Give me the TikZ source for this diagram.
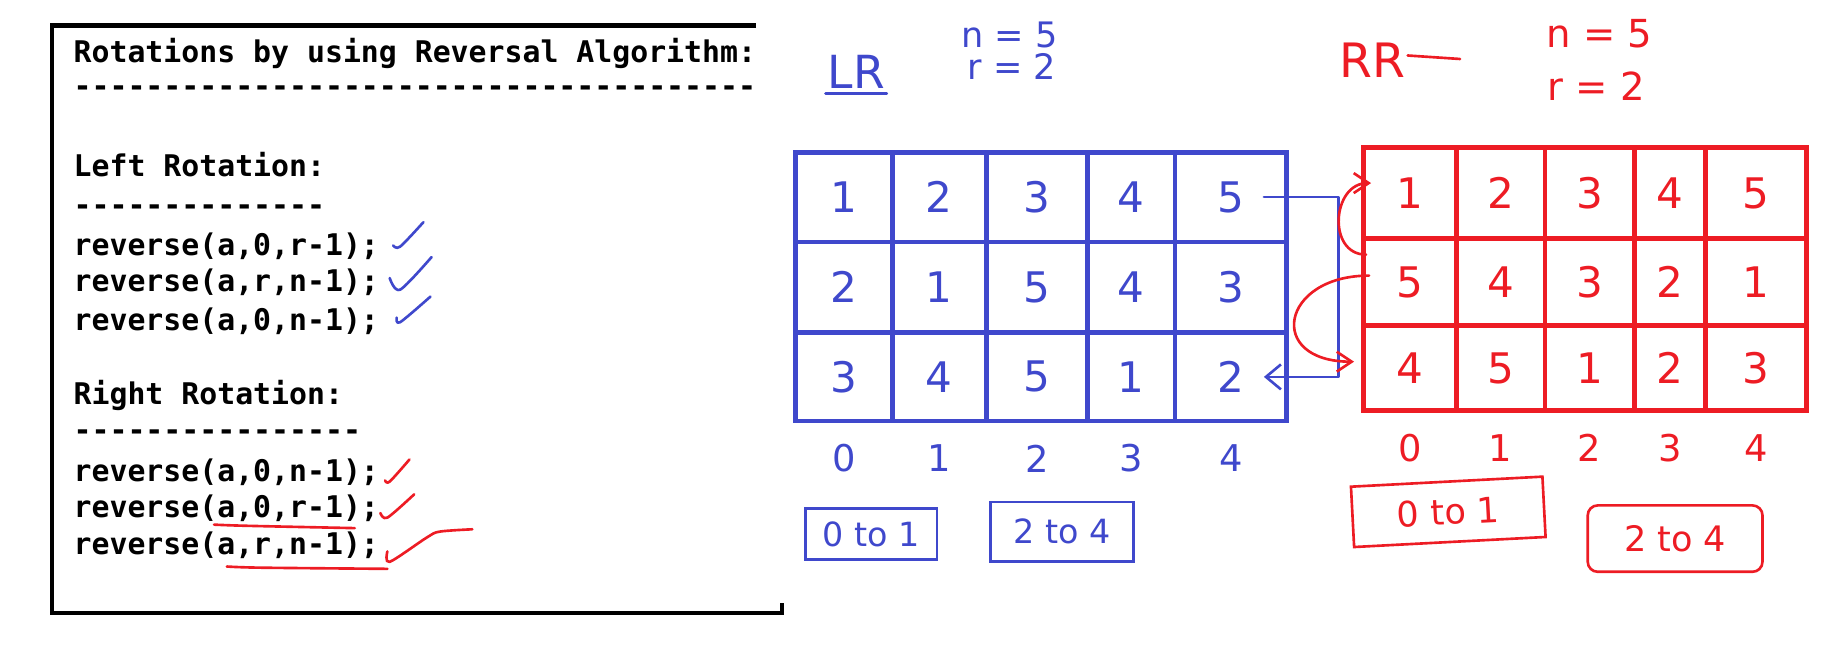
\documentclass[tikz,border=0pt]{standalone}
\usepackage{fontspec}
\usepackage{xcolor}
\usepackage{tikz}
\usetikzlibrary{arrows.meta,positioning}
\setmonofont{DejaVu Sans Mono}
\newfontfamily\handfont{DejaVu Sans}
\newcommand\hsz[1]{\handfont\fontsize{#1}{#1}\selectfont}
\newcommand\dashrow[1]{\foreach \k in {1,...,#1}{-}}
\definecolor{pblue}{HTML}{3F48CC}
\definecolor{pred}{HTML}{ED1C24}

\begin{document}
\begin{tikzpicture}[x=0.0233cm,y=-0.0233cm,
  code/.style={anchor=base west,inner sep=0pt,font=\ttfamily\bfseries\fontsize{17}{20}\selectfont},
  bcell/.style={draw=pblue,line width=2.6pt,inner sep=0pt},
  rcell/.style={draw=pred,line width=2.6pt,inner sep=0pt},
  bhand/.style={text=pblue,inner sep=1pt,font=\hsz{22}},
  rhand/.style={text=pred,inner sep=1pt,font=\hsz{22}},
  bink/.style={pblue,line width=1.5pt,line cap=round,line join=round},
  rink/.style={pred,line width=1.5pt,line cap=round,line join=round}]
  \useasboundingbox (0,0) rectangle (1568,556);

  % code panel
  \draw[line width=2.4pt] (650,22) -- (45,22) -- (45,527) -- (672,527) -- (672,518);
  \node[code] (title) at (63,54) {Rotations by using Reversal Algorithm:};
  \node[code] (rule1) at (63,83) {\dashrow{38}};
  \node[code] (hleft) at (63,152) {Left Rotation:};
  \node[code] (rule2) at (63,185) {\dashrow{14}};
  \node[code] (l1) at (63,220) {reverse(a,0,r-1);};
  \node[code] (l2) at (63,251) {reverse(a,r,n-1);};
  \node[code] (l3) at (63,284) {reverse(a,0,n-1);};
  \node[code] (hright) at (63,348) {Right Rotation:};
  \node[code] (rule3) at (63,379) {\dashrow{16}};
  \node[code] (r1) at (63,414) {reverse(a,0,n-1);};
  \node[code] (r2) at (63,445) {reverse(a,0,r-1);};
  \node[code] (r3) at (63,477) {reverse(a,r,n-1);};

  % ticks and underlines
  \draw[bink] plot[smooth] coordinates {(338,211) (344,212) (364,191)};
  \draw[bink] plot[smooth] coordinates {(335,239) (344,249) (371,221)};
  \draw[bink] plot[smooth] coordinates {(341,273) (344,277) (370,255)};
  \draw[rink] plot[smooth] coordinates {(331,413) (335,414) (352,395)};
  \draw[rink] plot[smooth] coordinates {(327,441) (333,445) (356,425)};
  \draw[rink] plot[smooth] coordinates {(333,474) (335,483) (367,462) (378,457) (406,455)};
  \draw[rink] plot[smooth] coordinates {(184,451) (212,452) (305,454)};
  \draw[rink] plot[smooth] coordinates {(195,487) (224,488) (333,489)};

  % left rotation
  \node[bhand,font=\hsz{26}] (lr) at (736,62) {LR};
  \draw[bink] ([yshift=-0.5mm]lr.south west) -- ([yshift=-0.5mm]lr.south east);
  \node[bhand,font=\hsz{20}] (bn) at (868,30) {n = 5};
  \node[bhand,font=\hsz{20}] (br) at (870,57) {r = 2};
  \foreach \xa/\xb [count=\c] in {684/767,767/848,848/935,935/1010,1010/1106}
    \foreach \ya/\yb [count=\r] in {131/208,208/286,286/362}
      \node[bcell,minimum width={(\xb-\xa)*0.0233cm},minimum height={(\yb-\ya)*0.0233cm}]
        (b\r\c) at ({(\xa+\xb)/2},{(\ya+\yb)/2}) {};
  \foreach \v [count=\c] in {1,2,3,4,5} \node[bhand,font=\hsz{24}] (bv1\c) at (b1\c) {\v};
  \foreach \v [count=\c] in {2,1,5,4,3} \node[bhand,font=\hsz{24}] (bv2\c) at (b2\c) {\v};
  \foreach \v [count=\c] in {3,4,5,1,2} \node[bhand,font=\hsz{24}] (bv3\c) at (b3\c) {\v};
  \foreach \i [count=\c] in {0,...,4}
    \node[bhand,font=\hsz{21}] (bi\c) at ([yshift=-7mm]b3\c.south) {\i};
  \node[bhand,font=\hsz{19},draw=pblue,line width=1.5pt,minimum width=2.63cm,minimum height=1.03cm] (bsel1) at (749,459) {0 to 1};
  \node[bhand,font=\hsz{19},draw=pblue,line width=1.5pt,minimum width=2.87cm,minimum height=1.19cm] (bsel2) at (913,457) {2 to 4};
  \draw[bink,-{Straight Barb[length=3mm,width=5mm]}] ([xshift=-5mm]b15.east) -| ([xshift=1cm]b35.east) -- ([xshift=-5mm]b35.east);

  % right rotation
  \node[rhand,font=\hsz{27}] (rr) at (1180,52) {RR};
  \draw[rink] ([yshift=1mm]rr.east) -- ++(45,3);
  \node[rhand,font=\hsz{22}] (rn) at (1375,29) {n = 5};
  \node[rhand,font=\hsz{22}] (rrr) at (1372,74) {r = 2};
  \foreach \xa/\xb [count=\c] in {1172/1252,1252/1328,1328/1405,1405/1466,1466/1553}
    \foreach \ya/\yb [count=\r] in {127/205,205/280,280/353}
      \node[rcell,minimum width={(\xb-\xa)*0.0233cm},minimum height={(\yb-\ya)*0.0233cm}]
        (q\r\c) at ({(\xa+\xb)/2},{(\ya+\yb)/2}) {};
  \foreach \v [count=\c] in {1,2,3,4,5} \node[rhand,font=\hsz{24}] (qv1\c) at (q1\c) {\v};
  \foreach \v [count=\c] in {5,4,3,2,1} \node[rhand,font=\hsz{24}] (qv2\c) at (q2\c) {\v};
  \foreach \v [count=\c] in {4,5,1,2,3} \node[rhand,font=\hsz{24}] (qv3\c) at (q3\c) {\v};
  \foreach \i [count=\c] in {0,...,4}
    \node[rhand,font=\hsz{21}] (qi\c) at ([yshift=-7mm]q3\c.south) {\i};
  \node[rhand,font=\hsz{20},draw=pred,line width=1.5pt,minimum width=3.84cm,minimum height=1.21cm,rotate=3] (qsel1) at (1245,440) {0 to 1};
  \node[rhand,font=\hsz{20},draw=pred,line width=1.5pt,minimum width=3.5cm,minimum height=1.33cm,rounded corners=2mm] (qsel2) at (1440,463) {2 to 4};
  \draw[rink,-{Straight Barb[length=3mm,width=4mm]}] ([xshift=1mm,yshift=5.5mm]q21.west)
    to[out=180,in=180,looseness=1.4] ([xshift=2mm,yshift=2mm]q11.west);
  \draw[rink,-{Straight Barb[length=3mm,width=4mm]}] ([xshift=1.6mm,yshift=1.3mm]q21.west)
    to[out=180,in=180,looseness=2.6] ([xshift=-1.4mm,yshift=1.3mm]q31.west);
\end{tikzpicture}
\end{document}
